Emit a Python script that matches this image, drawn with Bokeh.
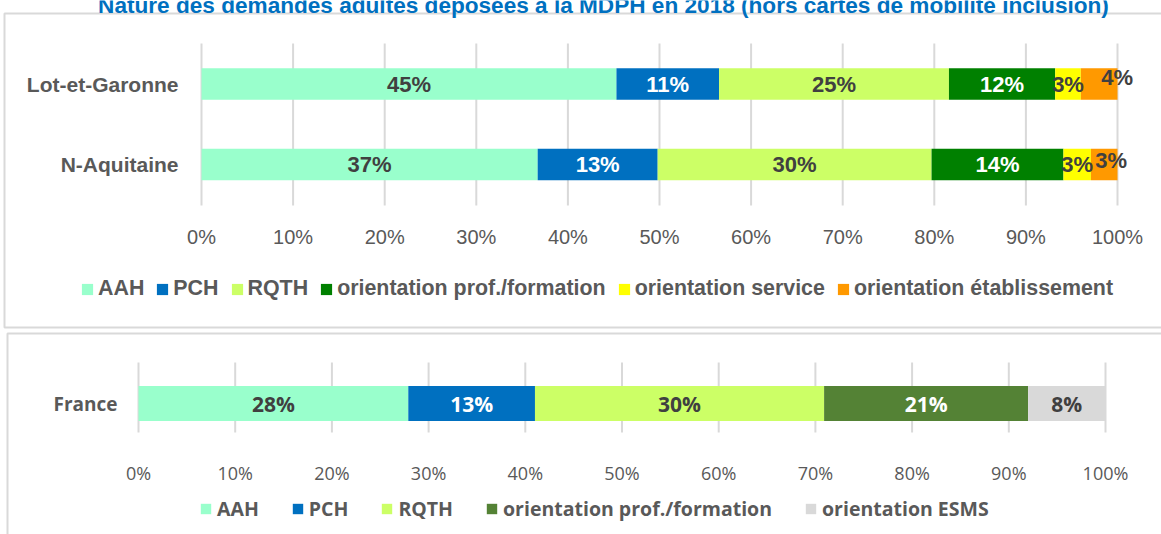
import numpy as np
from bokeh.plotting import figure
from bokeh.models import (ColumnDataSource, FixedTicker, LinearAxis, Legend,
                          LegendItem, Range1d, Label)
from bokeh.core.properties import value, field
from bokeh.embed import file_html
from bokeh.resources import INLINE

# ---------------- data ----------------
title_text = "Nature des demandes adultes déposées à la MDPH en 2018 (hors cartes de mobilité inclusion)"

regions = ["Lot-et-Garonne", "N-Aquitaine"]
top_series = ["AAH", "PCH", "RQTH", "orientation prof./formation",
              "orientation service", "orientation établissement"]
lot_values = [45.3, 11.2, 25.1, 11.6, 2.8, 4.0]
naq_values = [36.7, 13.1, 29.9, 14.4, 3.0, 2.9]
lot_labels = ["45%", "11%", "25%", "12%", "3%", "4%"]
naq_labels = ["37%", "13%", "30%", "14%", "3%", "3%"]

bottom_regions = ["France"]
bottom_series = ["AAH", "PCH", "RQTH", "orientation prof./formation", "orientation ESMS"]
france_values = [27.9, 13.1, 29.9, 21.1, 8.0]
france_labels = ["28%", "13%", "30%", "21%", "8%"]

tick_values = [0, 10, 20, 30, 40, 50, 60, 70, 80, 90, 100]
tick_labels = ["0%", "10%", "20%", "30%", "40%", "50%", "60%", "70%", "80%", "90%", "100%"]

# ---------------- styles / layout ----------------
top_colors = ["#99FFCC", "#0070C0", "#CCFF66", "#008000", "#FFFF00", "#FF9900"]
top_text_colors = ["#404040", "#FFFFFF", "#404040", "#FFFFFF", "#404040", "#404040"]
bottom_colors = ["#99FFCC", "#0070C0", "#CCFF66", "#548235", "#D9D9D9"]
bottom_text_colors = ["#404040", "#FFFFFF", "#404040", "#FFFFFF", "#404040"]
GRID = "#D9D9D9"
GREY = "#595959"
W, H = 1161, 534

# pixel geometry of the two panels
T_X0, T_X100 = 201, 1117          # top chart: 0% and 100%
T_Y1, T_Y0 = 83.5, 164            # top chart: row 1 / row 0 centres
T_GTOP, T_GBOT = 43, 205          # top grid extent
B_X0, B_X100 = 138, 1105          # bottom chart
B_Y0, B_UNIT = 403, 70            # bottom chart: row centre, px per unit
B_GTOP, B_GBOT = 362, 432

tpx = (T_X100 - T_X0) / 100
bpx = (B_X100 - B_X0) / 100
tpu = T_Y0 - T_Y1

p = figure(width=W, height=H, x_range=Range1d(0, W), y_range=Range1d(H, 0),
           x_axis_type=None, y_axis_type=None, min_border=0,
           output_backend="svg", toolbar_location=None)
p.outline_line_color = None
p.background_fill_color = "white"
p.border_fill_color = "white"
p.extra_x_ranges = {
    "top": Range1d(-T_X0 / tpx, (W - T_X0) / tpx),
    "bot": Range1d(-B_X0 / bpx, (W - B_X0) / bpx),
}
p.extra_y_ranges = {
    "top": Range1d((T_Y0 - H) / tpu, T_Y0 / tpu),
    "bot": Range1d((B_Y0 - H) / B_UNIT, B_Y0 / B_UNIT),
}

# panel frames
p.quad(left=[4, 7], right=[W + 10, W + 10], top=[13, 333], bottom=[327, H + 10],
       fill_color=None, line_color=GRID, line_width=2)

# title
p.add_layout(Label(x=603, y=5, text=title_text, text_align="center",
                   text_baseline="alphabetic", text_font="Liberation Sans",
                   text_font_style="bold", text_font_size="22.6px", text_color="#0070C0"))

# ---------------- top chart ----------------
tg_lo, tg_hi = (T_Y0 - T_GBOT) / tpu, (T_Y0 - T_GTOP) / tpu
p.segment(x0=tick_values, x1=tick_values, y0=[tg_lo] * len(tick_values),
          y1=[tg_hi] * len(tick_values), line_color=GRID, line_width=2,
          x_range_name="top", y_range_name="top")

ys = [1, 0]
vals = np.array([lot_values, naq_values])
rights = np.cumsum(vals, axis=1)
lefts = rights - vals
items = []
for i, name in enumerate(top_series):
    r = p.hbar(y=ys, left=lefts[:, i], right=rights[:, i], height=0.39,
               fill_color=top_colors[i], line_color=None,
               x_range_name="top", y_range_name="top")
    items.append(LegendItem(label=name, renderers=[r]))

lab_x, lab_y, lab_t, lab_c, lab_dx, lab_dy = [], [], [], [], [], []
for row, (y, labels) in enumerate(zip(ys, [lot_labels, naq_labels])):
    for i in range(len(top_series)):
        lab_x.append((lefts[row, i] + rights[row, i]) / 2)
        lab_y.append(y)
        lab_t.append(labels[i])
        lab_c.append(top_text_colors[i])
        last = i == len(top_series) - 1
        lab_dx.append((18 if row == 0 else 7) if last else 0)
        lab_dy.append((-7 if row == 0 else -4) if last else 0)
src1 = ColumnDataSource(dict(x=lab_x, y=lab_y, t=lab_t, c=lab_c, dx=lab_dx, dy=lab_dy))
p.text(x="x", y="y", text="t", source=src1, text_color=field("c"),
       x_offset=field("dx"), y_offset=field("dy"),
       text_align="center", text_baseline="middle",
       text_font=value("Liberation Sans"), text_font_style="bold",
       text_font_size="22px", x_range_name="top", y_range_name="top")

xa1 = LinearAxis(x_range_name="top", y_range_name="top", fixed_location=tg_lo,
                 ticker=FixedTicker(ticks=tick_values),
                 major_label_overrides=dict(zip(tick_values, tick_labels)))
ya1 = LinearAxis(x_range_name="top", y_range_name="top", fixed_location=0,
                 ticker=FixedTicker(ticks=ys),
                 major_label_overrides={1: regions[0], 0: regions[1]})
for ax in (xa1, ya1):
    ax.axis_line_color = None
    ax.major_tick_line_color = None
    ax.minor_tick_line_color = None
    ax.major_tick_in = 0
    ax.major_tick_out = 0
    ax.major_label_text_color = GREY
    ax.major_label_text_font = "Liberation Sans"
xa1.major_label_standoff = 20
xa1.major_label_text_font_size = "20px"
ya1.major_label_standoff = 23
ya1.major_label_text_font_size = "21px"
ya1.major_label_text_font_style = "bold"
p.add_layout(xa1, "below")
p.add_layout(ya1, "left")

leg1 = Legend(items=items, orientation="horizontal", location=(80, H - 301),
              glyph_width=14, glyph_height=14, label_standoff=4, spacing=11,
              padding=0, margin=0, border_line_color=None, background_fill_alpha=0,
              label_text_font="Liberation Sans", label_text_font_style="bold",
              label_text_font_size="21.4px", label_text_color=GREY, label_height=22)
p.add_layout(leg1)

# ---------------- bottom chart ----------------
bg_lo, bg_hi = (B_Y0 - B_GBOT) / B_UNIT, (B_Y0 - B_GTOP) / B_UNIT
p.segment(x0=tick_values, x1=tick_values, y0=[bg_lo] * len(tick_values),
          y1=[bg_hi] * len(tick_values), line_color=GRID, line_width=2,
          x_range_name="bot", y_range_name="bot")

fv = np.array(france_values)
frr = np.cumsum(fv)
fll = frr - fv
items2 = []
for i, name in enumerate(bottom_series):
    r = p.hbar(y=[0], left=[fll[i]], right=[frr[i]], height=0.5,
               fill_color=bottom_colors[i], line_color=None,
               x_range_name="bot", y_range_name="bot")
    items2.append(LegendItem(label=name, renderers=[r]))

src2 = ColumnDataSource(dict(x=list((fll + frr) / 2), y=[0] * len(fv), t=france_labels,
                             c=bottom_text_colors))
p.text(x="x", y="y", text="t", source=src2, text_color=field("c"),
       text_align="center", text_baseline="middle",
       text_font=value("Open Sans"), text_font_style="bold",
       text_font_size="21px", x_range_name="bot", y_range_name="bot")

xa2 = LinearAxis(x_range_name="bot", y_range_name="bot", fixed_location=bg_lo,
                 ticker=FixedTicker(ticks=tick_values),
                 major_label_overrides=dict(zip(tick_values, tick_labels)))
ya2 = LinearAxis(x_range_name="bot", y_range_name="bot", fixed_location=0,
                 ticker=FixedTicker(ticks=[0]),
                 major_label_overrides={0: bottom_regions[0]})
for ax in (xa2, ya2):
    ax.axis_line_color = None
    ax.major_tick_line_color = None
    ax.minor_tick_line_color = None
    ax.major_tick_in = 0
    ax.major_tick_out = 0
    ax.major_label_text_color = GREY
    ax.major_label_text_font = "Open Sans"
xa2.major_label_standoff = 28
xa2.major_label_text_font_size = "18px"
ya2.major_label_standoff = 21
ya2.major_label_text_font_size = "19px"
ya2.major_label_text_font_style = "bold"
p.add_layout(xa2, "below")
p.add_layout(ya2, "left")

leg2 = Legend(items=items2, orientation="horizontal", location=(199, H - 522),
              glyph_width=13, glyph_height=13, label_standoff=5, spacing=32,
              padding=0, margin=0, border_line_color=None, background_fill_alpha=0,
              label_text_font="Open Sans", label_text_font_style="bold",
              label_text_font_size="19.5px", label_text_color=GREY, label_height=22)
p.add_layout(leg2)

open("out.html", "w").write(file_html(p, INLINE))
